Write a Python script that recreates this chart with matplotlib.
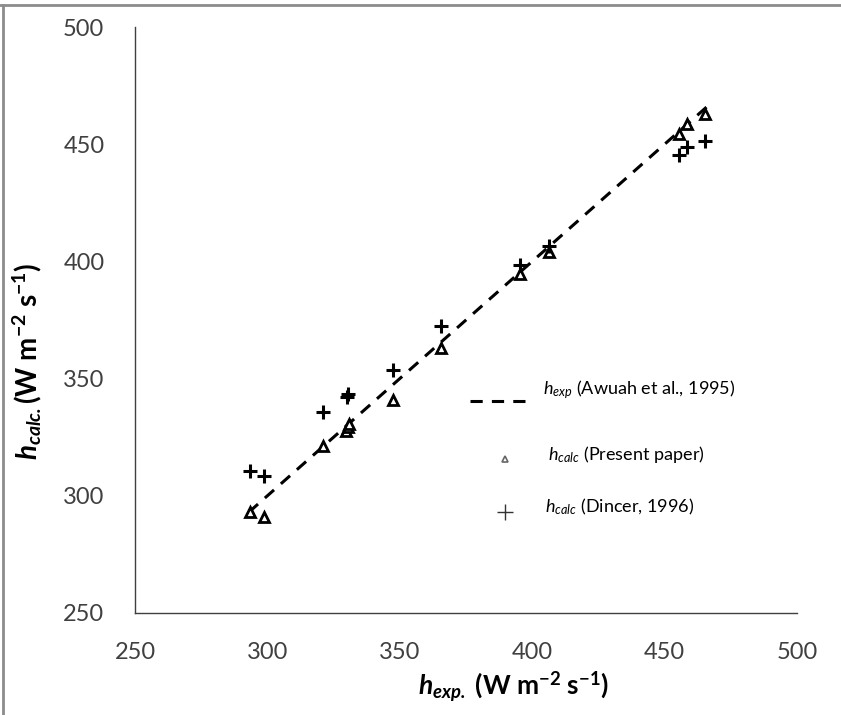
import matplotlib.pyplot as plt
from matplotlib.lines import Line2D

plt.rcParams['font.family'] = ['Lato', 'DejaVu Sans']
plt.rcParams['mathtext.fontset'] = 'custom'
plt.rcParams['mathtext.rm'] = 'Lato'
plt.rcParams['mathtext.it'] = 'Lato:italic'
plt.rcParams['mathtext.bf'] = 'Lato:bold'
plt.rcParams['mathtext.bfit'] = 'Lato:italic:bold'

# ==========================================
# DATA
# ==========================================
# present paper (triangles)
present_x = [293.5, 298.7, 321.1, 329.8, 330.4, 331.0, 347.6, 365.4, 395.4, 406.3, 455.3, 458.3, 465.3]
present_y = [293.0, 291.0, 321.4, 327.5, 329.2, 330.8, 340.9, 363.2, 394.6, 404.1, 454.4, 458.5, 462.9]

# Dincer, 1996 (plus signs)
dincer_x = [293.5, 298.7, 321.1, 330.2, 330.6, 347.6, 365.4, 395.4, 406.3, 455.3, 458.3, 465.3]
dincer_y = [310.5, 308.6, 335.9, 342.2, 343.6, 353.7, 372.6, 398.5, 406.7, 445.4, 448.7, 451.4]

# Awuah et al., 1995 (h_exp line)
awuah_x = [293.0, 466.0]
awuah_y = [293.0, 466.0]

ticks = [250, 300, 350, 400, 450, 500]

# ==========================================
# PLOT
# ==========================================
fig = plt.figure(figsize=(8.41, 7.15), dpi=100)
ax = fig.add_axes([0.1605, 0.1427, 0.7872, 0.8195])

ax.plot(awuah_x, awuah_y, color='black', lw=2.2, dashes=(4, 3))
ax.plot(present_x, present_y, ls='none', marker='^', ms=7.5, mfc='white',
        mec='black', mew=2.0)
ax.plot(dincer_x, dincer_y, ls='none', marker='+', ms=10, color='black', mew=2.2)

ax.set_xlim(250, 500)
ax.set_ylim(250, 500)
ax.set_xticks(ticks)
ax.set_yticks(ticks)
for s in ['top', 'right']:
    ax.spines[s].set_visible(False)
for s in ['left', 'bottom']:
    ax.spines[s].set_color('#404040')
    ax.spines[s].set_linewidth(1.0)
ax.tick_params(length=0, labelsize=17, colors='#404040')
ax.tick_params(axis='x', pad=21)
ax.tick_params(axis='y', pad=22)

ax.set_xlabel(r'$\mathbfit{h}_{\mathbfit{exp.}}$ (W m$^{\mathbf{-2}}$ s$^{\mathbf{-1}}$)',
              fontsize=19, fontweight='bold')
ax.xaxis.set_label_coords(0.5725, -0.096)
ax.set_ylabel(r'$\mathbfit{h}_{\mathbfit{calc.}}$(W m$^{\mathbf{-2}}$ s$^{\mathbf{-1}}$)',
              fontsize=20, fontweight='bold')
ax.yaxis.set_label_coords(-0.137, 0.43)

# legend drawn by hand to keep the uneven spacing
ax.add_line(Line2D([0.506, 0.601], [0.362, 0.362], transform=ax.transAxes,
                   color='black', lw=2.2, dashes=(4, 3)))
ax.add_line(Line2D([0.559], [0.263], transform=ax.transAxes, marker='^', ms=5,
                   mfc='white', mec='#666666', mew=1.2, ls='none'))
ax.add_line(Line2D([0.559], [0.172], transform=ax.transAxes, marker='+', ms=12,
                   color='#333333', mew=1.0, ls='none'))
ax.text(0.616, 0.381, r'$h_{exp}$ (Awuah et al., 1995)', transform=ax.transAxes,
        fontsize=13, va='center', ha='left')
ax.text(0.624, 0.270, r'$h_{calc}$ (Present paper)', transform=ax.transAxes,
        fontsize=13, va='center', ha='left')
ax.text(0.619, 0.181, r'$h_{calc}$ (Dincer, 1996)', transform=ax.transAxes,
        fontsize=13, va='center', ha='left')

# grey frame pieces at top and left of the picture
fig.add_artist(Line2D([0, 1], [1 - 5 / 715] * 2, transform=fig.transFigure,
                      color='#8c8c8c', lw=2))
fig.add_artist(Line2D([3 / 841] * 2, [0, 1 - 5 / 715], transform=fig.transFigure,
                      color='#8c8c8c', lw=2))

fig.savefig('out.png', dpi=100)
